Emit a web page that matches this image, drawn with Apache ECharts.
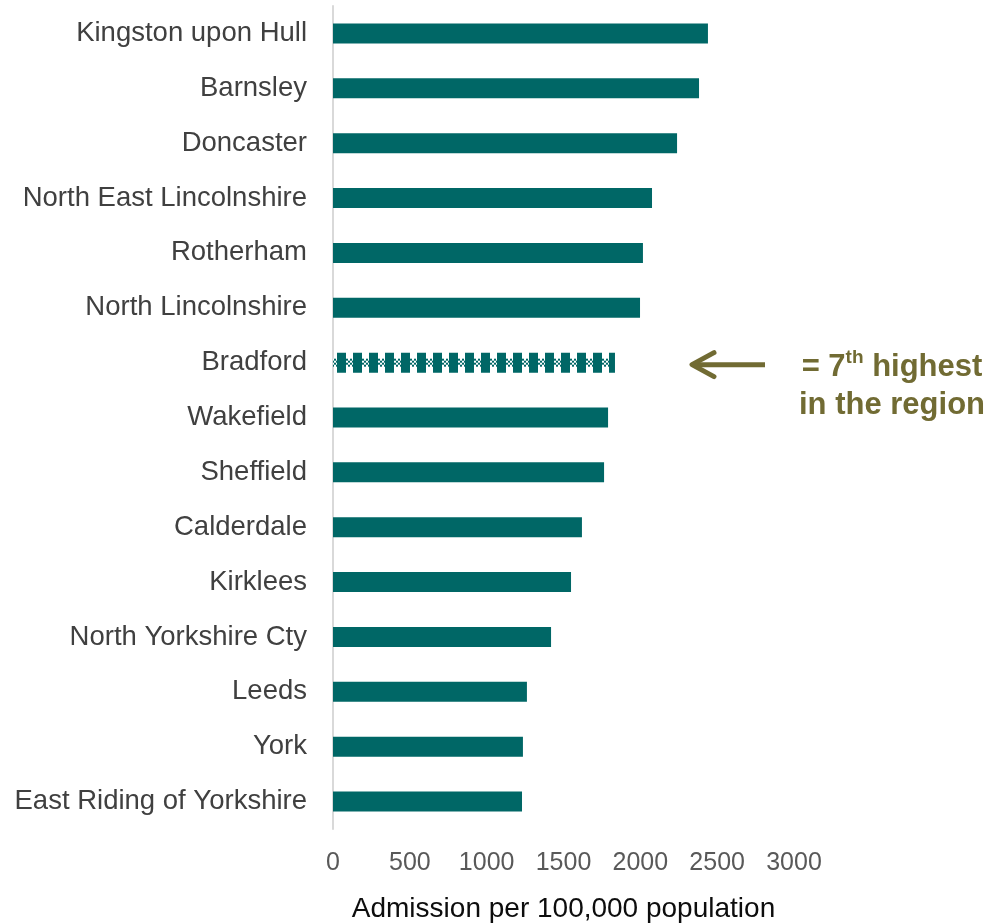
<!DOCTYPE html>
<html>
<head>
<meta charset="utf-8">
<script src="https://cdn.jsdelivr.net/npm/echarts@6/dist/echarts.min.js"></script>
<style>
  html, body { margin: 0; padding: 0; background: #fff; }
  #main { width: 997px; height: 923px; }
</style>
</head>
<body>
<div id="main"></div>
<script>
// admissions per 100,000 population, top to bottom as in the chart
var areas = [
  'Kingston upon Hull', 'Barnsley', 'Doncaster', 'North East Lincolnshire',
  'Rotherham', 'North Lincolnshire', 'Bradford', 'Wakefield', 'Sheffield',
  'Calderdale', 'Kirklees', 'North Yorkshire Cty', 'Leeds', 'York',
  'East Riding of Yorkshire'
]
var admissions = [2440, 2382, 2239, 2076, 2017, 1998, 1835, 1790, 1764, 1620, 1549, 1419, 1262, 1236, 1230]
var highlightArea = 'Bradford'
var xMin = 0
var xMax = 3000
var xStep = 500

var teal = '#006766'
var olive = '#716b33'
var font = '"Liberation Sans", Arial, sans-serif'

/**
 * checker pattern used for the highlighted bar
 */
function makePattern() {
  var c = document.createElement('canvas')
  c.width = 16
  c.height = 20
  var ctx = c.getContext('2d')
  for (var x = 0; x < 16; x += 2) {
    for (var y = 6; y < 14; y += 2) {
      ctx.fillStyle = ((x + y) / 2) % 2 ? '#ffffff' : teal
      ctx.fillRect(x, y, 2, 2)
    }
  }
  ctx.fillStyle = teal
  ctx.fillRect(1, 0, 9, 20)
  return c
}

var chart = echarts.init(document.getElementById('main'), null, { renderer: 'canvas' })

var option = {
  animation: false,
  backgroundColor: '#fff',
  grid: { left: 333, right: 203, top: 6, bottom: 94, containLabel: false, outerBoundsMode: 'none' },
  xAxis: {
    type: 'value',
    min: xMin,
    max: xMax,
    interval: xStep,
    name: 'Admission per 100,000 population',
    nameLocation: 'middle',
    nameGap: 66,
    nameTextStyle: { color: '#0d0d0d', fontSize: 28, fontFamily: font },
    axisLine: { show: false },
    axisTick: { show: false },
    splitLine: { show: false },
    axisLabel: {
      color: '#595959', fontSize: 25, fontFamily: font, margin: 22,
      formatter: function (v) { return String(v) }
    }
  },
  yAxis: {
    type: 'category',
    data: areas,
    inverse: true,
    axisLine: { show: true, lineStyle: { color: '#d9d9d9', width: 2 } },
    axisTick: { show: false },
    axisLabel: { color: '#404040', fontSize: 27.5, fontFamily: font, margin: 26 }
  },
  series: [
    {
      type: 'bar',
      barWidth: 20,
      data: admissions,
      itemStyle: { color: teal }
    }
  ]
}
chart.setOption(option)

// place the pattern and the annotation on the highlighted bar
var idx = areas.indexOf(highlightArea)
var cy = chart.convertToPixel({ yAxisIndex: 0 }, idx)
var x0 = chart.convertToPixel({ xAxisIndex: 0 }, xMin)

var seriesData = admissions.map(function (v, i) {
  if (i !== idx) return v
  return {
    value: v,
    itemStyle: {
      color: { image: makePattern(), repeat: 'repeat', x: x0 + 3, y: cy - 10 }
    }
  }
})

chart.setOption({
  series: [{ data: seriesData }],
  graphic: [
    {
      type: 'line',
      shape: { x1: 694, y1: cy + 2, x2: 765, y2: cy + 2 },
      style: { stroke: olive, lineWidth: 5 }
    },
    {
      type: 'polyline',
      shape: { points: [[714, cy - 10], [692, cy + 2], [714, cy + 14]] },
      style: { stroke: olive, lineWidth: 5, fill: null, lineCap: 'round', lineJoin: 'round' }
    },
    {
      type: 'text',
      style: {
        x: 892,
        y: cy - 14,
        text: '= 7{sup|th} highest\nin the region',
        align: 'center',
        verticalAlign: 'top',
        fill: olive,
        font: 'bold 31px ' + font,
        lineHeight: 38,
        rich: {
          sup: { fontSize: 19, fontWeight: 'bold', fill: olive, verticalAlign: 'top', lineHeight: 38, padding: [0, 0, 12, 0] }
        }
      }
    }
  ]
})
</script>
</body>
</html>
